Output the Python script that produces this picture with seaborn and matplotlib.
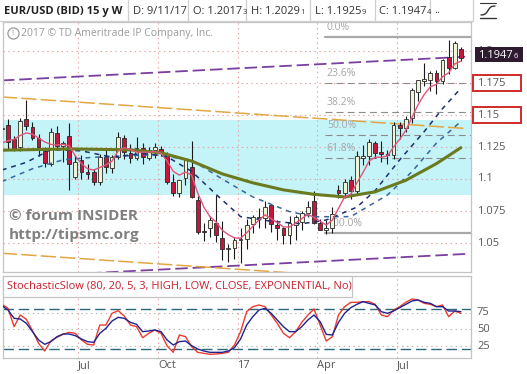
import matplotlib
matplotlib.use("Agg")
import matplotlib.pyplot as plt
import numpy as np
import pandas as pd
import seaborn as sns
from matplotlib.patches import Rectangle

# weekly EUR/USD bars, first one (2016-04-04) sits just off the left edge
weeks = pd.date_range("2016-04-04", periods=76, freq="W-MON")
open_ = [1.1390, 1.1422, 1.1310, 1.1248, 1.1466, 1.1409, 1.1318, 1.1221, 1.1114, 1.1362,
         1.1261, 1.1336, 1.1018, 1.1148, 1.1057, 1.1057, 1.0979, 1.1174, 1.1083, 1.1174,
         1.1318, 1.1200, 1.1161, 1.1240, 1.1161, 1.1227, 1.1232, 1.1188, 1.0979, 1.0888,
         1.1005, 1.1096, 1.0836, 1.0589, 1.0615, 1.0659, 1.0537, 1.0453, 1.0458, 1.0523,
         1.0530, 1.0645, 1.0700, 1.0697, 1.0795, 1.0640, 1.0615, 1.0565, 1.0640, 1.0667,
         1.0732, 1.0827, 1.0654, 1.0600, 1.0615, 1.0914, 1.0888, 1.0992, 1.0906, 1.1165,
         1.1180, 1.1284, 1.1212, 1.1196, 1.1190, 1.1425, 1.1400, 1.1474, 1.1682, 1.1762,
         1.1773, 1.1831, 1.1762, 1.1956, 1.1865, 1.2017]
high = [1.1438, 1.1465, 1.1339, 1.1475, 1.1616, 1.1448, 1.1348, 1.1252, 1.1395, 1.1416,
        1.1299, 1.1435, 1.1188, 1.1186, 1.1120, 1.1078, 1.1198, 1.1235, 1.1190, 1.1366,
        1.1340, 1.1272, 1.1327, 1.1283, 1.1250, 1.1281, 1.1260, 1.1214, 1.1040, 1.0995,
        1.1160, 1.1300, 1.0870, 1.0655, 1.0712, 1.0875, 1.0668, 1.0495, 1.0548, 1.0615,
        1.0685, 1.0719, 1.0775, 1.0829, 1.0800, 1.0679, 1.0625, 1.0714, 1.0715, 1.0750,
        1.0828, 1.0906, 1.0690, 1.0680, 1.0785, 1.0950, 1.1000, 1.1023, 1.1215, 1.1268,
        1.1310, 1.1296, 1.1296, 1.1225, 1.1445, 1.1445, 1.1490, 1.1712, 1.1777, 1.1910,
        1.1846, 1.1848, 1.1940, 1.2086, 1.2081, 1.2029]
low = [1.1330, 1.1234, 1.1215, 1.1217, 1.1384, 1.1305, 1.1181, 1.1097, 1.1098, 1.1230,
       1.1131, 1.0915, 1.0999, 1.1000, 1.1000, 1.0952, 1.0952, 1.1046, 1.1045, 1.1160,
       1.1160, 1.1123, 1.1150, 1.1120, 1.1150, 1.1161, 1.1180, 1.0960, 1.0865, 1.0860,
       1.0950, 1.0850, 1.0569, 1.0518, 1.0548, 1.0506, 1.0365, 1.0352, 1.0372, 1.0340,
       1.0454, 1.0580, 1.0620, 1.0620, 1.0589, 1.0520, 1.0495, 1.0495, 1.0525, 1.0600,
       1.0700, 1.0650, 1.0600, 1.0569, 1.0580, 1.0850, 1.0850, 1.0840, 1.0880, 1.1108,
       1.1110, 1.1167, 1.1130, 1.1120, 1.1155, 1.1312, 1.1370, 1.1440, 1.1611, 1.1730,
       1.1689, 1.1662, 1.1740, 1.1823, 1.1860, 1.1925]
close = [1.1395, 1.1292, 1.1232, 1.1457, 1.1414, 1.1318, 1.1253, 1.1122, 1.1370, 1.1258,
         1.1279, 1.1114, 1.1135, 1.1057, 1.1039, 1.0979, 1.1174, 1.1096, 1.1174, 1.1331,
         1.1213, 1.1161, 1.1240, 1.1174, 1.1227, 1.1248, 1.1206, 1.0979, 1.0888, 1.0992,
         1.1148, 1.0857, 1.0589, 1.0588, 1.0680, 1.0563, 1.0451, 1.0459, 1.0523, 1.0530,
         1.0641, 1.0700, 1.0697, 1.0784, 1.0652, 1.0615, 1.0560, 1.0657, 1.0700, 1.0732,
         1.0784, 1.0654, 1.0600, 1.0615, 1.0725, 1.0888, 1.0974, 1.0904, 1.1180, 1.1180,
         1.1290, 1.1201, 1.1196, 1.1190, 1.1425, 1.1400, 1.1468, 1.1695, 1.1773, 1.1780,
         1.1831, 1.1762, 1.1930, 1.1865, 1.2060, 1.1947]

# overlays
ema_fast = [1.128, 1.130, 1.131, 1.134, 1.136, 1.135, 1.132, 1.129, 1.127, 1.1265,
            1.127, 1.126, 1.118, 1.112, 1.108, 1.107, 1.109, 1.111, 1.114, 1.122,
            1.1245, 1.123, 1.121, 1.121, 1.121, 1.1215, 1.120, 1.114, 1.106, 1.103,
            1.1055, 1.103, 1.089, 1.078, 1.0705, 1.0665, 1.060, 1.0565, 1.054, 1.0537,
            1.058, 1.063, 1.068, 1.072, 1.069, 1.066, 1.0625, 1.0625, 1.0655, 1.069,
            1.0725, 1.070, 1.067, 1.064, 1.068, 1.077, 1.086, 1.088, 1.097, 1.105,
            1.114, 1.117, 1.117, 1.118, 1.125, 1.131, 1.138, 1.148, 1.158, 1.166,
            1.172, 1.174, 1.180, 1.183, 1.190, 1.192]
ema_mid_weeks = [0, 4, 8, 13, 18, 23, 27, 31, 35, 39, 44, 49, 53, 58, 61, 65, 69, 72, 75]
ema_mid = [1.107, 1.113, 1.123, 1.122, 1.117, 1.120, 1.1174, 1.106, 1.088, 1.0706,
           1.067, 1.065, 1.068, 1.078, 1.091, 1.115, 1.137, 1.155, 1.171]
ema_slow_weeks = [0, 5, 10, 15, 20, 25, 31, 36, 41, 47, 51, 57, 63, 67, 71, 75]
ema_slow = [1.098, 1.108, 1.115, 1.117, 1.118, 1.119, 1.1148, 1.100, 1.086, 1.0745,
            1.0705, 1.0706, 1.0875, 1.1057, 1.128, 1.145]
sma_weeks = [0, 11, 21, 26, 31, 36, 41, 46, 51, 56, 61, 66, 71, 75]
sma = [1.1225, 1.1235, 1.1228, 1.1205, 1.114, 1.104, 1.097, 1.0915, 1.088, 1.086,
       1.090, 1.099, 1.112, 1.1245]

stoch_k = [87.5, 81.5, 54, 71.5, 65, 48, 29, 17.5, 32.5, 38, 42.5, 45.5, 44, 34, 27.5,
           26.5, 56.5, 56.5, 74, 78, 70, 56.5, 54, 37.5, 44, 49, 44, 25, 15.5, 41.5, 39,
           24, 15.5, 14, 12.5, 13, 14, 15.5, 26.5, 46.5, 76.5, 84, 86.5, 84, 71.5, 59,
           44, 37.5, 46.5, 60.5, 71.5, 80.5, 56.5, 32.5, 39, 71.5, 84, 90.5, 90.5, 91.5,
           91.5, 87.5, 71.5, 69, 79, 84, 90.5, 95.5, 94, 89, 87.5, 84, 86.5, 69, 77.5, 74]
stoch_d = [85.5, 79, 66.5, 65.5, 59, 46.5, 34, 27.5, 31.5, 39, 43, 43, 40.5, 35.5, 31.5,
           30.5, 44, 51.5, 62.5, 68, 66.5, 60.5, 57.5, 46.5, 47.5, 49, 46.5, 34, 26.5,
           31.5, 32.5, 25.5, 20.5, 17.5, 15.5, 15.5, 15.5, 17.5, 22.5, 35.5, 56.5, 69,
           79, 81.5, 74, 64, 54, 46.5, 46.5, 54, 64, 71.5, 61.5, 42.5, 41.5, 60.5, 74,
           82.5, 87.5, 91.5, 89, 86.5, 76.5, 74, 77.5, 82.5, 87.5, 92.5, 94, 90.5, 89,
           84, 84, 77.5, 77.5, 76.5]

price_ticks = [1.05, 1.075, 1.1, 1.125, 1.15, 1.175, 1.2]
boxed_ticks = [1.175, 1.15]
stoch_ticks = [25, 50, 75]
stoch_levels = [80, 20]
quarter_starts = ["2016-07-01", "2016-10-01", "2017-01-01", "2017-04-01", "2017-07-01"]
quarter_labels = ["Jul", "Oct", "17", "Apr", "Jul"]
zone = (1.0875, 1.1461)
fib_pcts = [0.0, 23.6, 38.2, 50.0, 61.8, 100.0]
fib_low, fib_high = 1.0578, 1.2107
fib_from = "2017-04-10"
# hand drawn trend lines: (week, price) -> (week, price)
trend_purple = [((0, 1.1770), (76, 1.1956)), ((0, 1.0229), (76, 1.0415))]
trend_orange = [((0, 1.1641), (76, 1.1394)), ((0, 1.0420), (76, 1.0173))]
last_price = "1.1947"

sns.set_style("white")
plt.rcParams["font.family"] = ["Open Sans", "DejaVu Sans"]
plt.rcParams["lines.scale_dashes"] = False

W, H = 527, 374
fig = plt.figure(figsize=(W / 100, H / 100), dpi=100)


def rect(px0, py0, px1, py1):
    return [px0 / W, 1 - py1 / H, (px1 - px0) / W, (py1 - py0) / H]


ax = fig.add_axes(rect(3, 22, 471, 272))
ax2 = fig.add_axes(rect(3, 276, 471, 358))
ov = fig.add_axes([0, 0, 1, 1], zorder=5)
ov.set_xlim(0, W)
ov.set_ylim(H, 0)
ov.axis("off")

idx = np.arange(len(weeks))
xlim = (0.183, 76.65)
grid_x = [int(np.argmax(weeks >= pd.Timestamp(q))) - 0.5 for q in quarter_starts]
grid_red = "#e6a3a3"

# ---- main price panel
ax.set_xlim(*xlim)
ax.set_ylim(1.02734, 1.22266)
ax.axhspan(zone[0], zone[1], color="#c4f3f8", zorder=0, lw=0)
for p in price_ticks:
    ax.axhline(p, color=grid_red, lw=0.8, ls=(0, (1, 2.5)), zorder=1)
for gx in grid_x:
    ax.axvline(gx, color=grid_red, lw=0.8, ls=(0, (1, 2.5)), zorder=1)

for (x0, y0), (x1, y1) in trend_purple:
    ax.plot([x0, x1], [y0, y1], color="#7b3fa0", lw=1.3, dashes=(9, 3.5), zorder=2)
for (x0, y0), (x1, y1) in trend_orange:
    ax.plot([x0, x1], [y0, y1], color="#e2a643", lw=1.1, dashes=(11, 3), zorder=2)

fib_i = int(np.argmax(weeks >= pd.Timestamp(fib_from)))
for pct in fib_pcts:
    lvl = fib_high - pct / 100 * (fib_high - fib_low)
    if pct in (0.0, 100.0):
        ax.plot([fib_i - 0.2, xlim[1]], [lvl, lvl], color="#a9a9a9", lw=1.6, zorder=2)
    else:
        ax.plot([fib_i - 0.2, xlim[1]], [lvl, lvl], color="#8c8c8c", lw=0.8,
                dashes=(5, 3), zorder=2)
    ax.annotate(f"{pct:.1f}%", (fib_i + 0.1, lvl), xytext=(0, 7), textcoords="offset points",
                fontsize=7.5, color="#a6a6a6", va="center", ha="left", zorder=2)

for i in idx:
    o, c = open_[i], close[i]
    up = c >= o
    ax.vlines(i, low[i], high[i], color="#1a1a1a", lw=0.8, zorder=3)
    ax.bar(i, max(abs(c - o), 0.0004), bottom=min(o, c), width=0.62,
           color="#f1f5d8" if up else "#c5173c", edgecolor="#2a2a2a", lw=0.6, zorder=3)

sns.lineplot(x=ema_slow_weeks, y=ema_slow, ax=ax, color="#36679c", lw=1.1,
             linestyle=(0, (3.5, 3.5)), zorder=4)
sns.lineplot(x=ema_mid_weeks, y=ema_mid, ax=ax, color="#1d2f6e", lw=1.1,
             linestyle=(0, (3.5, 3.5)), zorder=4)
sns.lineplot(x=sma_weeks, y=sma, ax=ax, color="#6b7a1f", lw=2.2, zorder=4)
sns.lineplot(x=idx, y=ema_fast, ax=ax, color="#e2557b", lw=1.0, zorder=4)

ax.set_xticks([])
ax.set_yticks([])
ax.set_xlabel("")
ax.set_ylabel("")
for s in ax.spines.values():
    s.set_color("#c4c4c4")
    s.set_linewidth(0.9)

# ---- stochastic panel
ax2.set_xlim(*xlim)
ax2.set_ylim(7, 130)
for v in stoch_ticks:
    ax2.axhline(v, color="#b5b5b5", lw=0.8, ls=(0, (1, 2.5)), zorder=1)
for gx in grid_x:
    ax2.axvline(gx, color=grid_red, lw=0.8, ls=(0, (1, 2.5)), zorder=1)
for v in stoch_levels:
    ax2.axhline(v, color="#2b6878", lw=1.0, dashes=(7.5, 3.5), zorder=2)
sns.lineplot(x=idx, y=stoch_k, ax=ax2, color="#ec3b2f", lw=1.0, zorder=3)
sns.lineplot(x=idx, y=stoch_d, ax=ax2, color="#1f2490", lw=1.0, zorder=4)
ax2.set_xticks(grid_x)
ax2.set_xticklabels(quarter_labels, ha="left", fontsize=8, color="#555555")
ax2.tick_params(axis="x", length=0, pad=1.5)
ax2.set_yticks([])
ax2.set_xlabel("")
ax2.set_ylabel("")
for s in ax2.spines.values():
    s.set_color("#c4c4c4")
    s.set_linewidth(0.9)

ov.add_patch(Rectangle((3, 276), 349, 21, fc="white", ec="#c4c4c4", lw=0.9))
ov.text(7, 286.5, "StochasticSlow (80, 20, 5, 3, HIGH, LOW, CLOSE, EXPONENTIAL, No)",
        fontsize=8, color="#c8202e", va="center", ha="left")


# ---- right axis labels
def py(p):
    return 243 - (p - 1.05) * 1280


for p in price_ticks:
    ov.text(477, py(p), f"{p:g}", fontsize=8, color="#5a5a5a", va="center", ha="left",
            zorder=2)
for p in boxed_ticks:
    ov.add_patch(Rectangle((473, py(p) - 8), 48, 16, fc="none", ec="#d02b2b", lw=1.4))
for v in stoch_ticks:
    ov.text(477, 312.7 + (75 - v) * 0.6667, str(v), fontsize=8, color="#5a5a5a",
            va="center", ha="left")

# last price tag sits on top of the 1.2 label
ov.add_patch(Rectangle((475, 47), 48, 15, fc="#2e1b30", ec="none", zorder=6))
t = ov.text(478, 55, last_price, fontsize=8, color="white", va="center", ha="left", zorder=7)
ov.annotate("6", xy=(1, 0), xycoords=t, xytext=(0.3, 0.5), textcoords="offset points",
            fontsize=5.5, color="white", va="bottom", ha="left", zorder=7)

# ---- header
ov.plot([0, 473], [21, 21], color="#cfcfcf", lw=0.9)
for sx in [128, 188, 246, 310, 375, 430, 473]:
    ov.plot([sx, sx], [0, 21], color="#cfcfcf", lw=0.9)
ov.text(4, 11, "EUR/USD (BID) 15 y W", fontsize=8, fontweight="bold", color="#222222",
        va="center", ha="left")
ov.text(133, 11, "D: 9/11/17", fontsize=8, color="#333333", va="center", ha="left")
for hx, main, small in [(193, "O: 1.2017", "3"), (251, "H: 1.2029", "1"),
                        (315, "L: 1.1925", "9"), (379, "C: 1.1947", "4")]:
    t = ov.text(hx, 11, main, fontsize=8, color="#333333", va="center", ha="left")
    ov.annotate(small, xy=(1, 0), xycoords=t, xytext=(0.3, 0.3), textcoords="offset points",
                fontsize=5.5, color="#333333", va="bottom", ha="left")
ov.text(434, 10, "..", fontsize=8, color="#333333", va="center", ha="left")

# curve icon
ic = np.linspace(0, 1, 30)
ov.plot(481 + 14 * ic, 15 - 9 / (1 + np.exp(-10 * (ic - 0.5))), color="#333333", lw=1.0)
ov.plot([480, 496], [18, 18], color="#333333", lw=1.0)
ov.plot([480, 496], [3, 3], color="#333333", lw=0.8)

# copyright line
ov.plot([13], [33], marker="o", ms=8, mfc="none", mec="#9a9a9a", mew=0.9)
ov.text(13, 33, "!", fontsize=6, color="#9a9a9a", va="center", ha="center")
ov.text(21, 33, "2017 \u00a9 TD Ameritrade IP Company, Inc.", fontsize=7.5,
        color="#9a9a9a", va="center", ha="left")

# watermark
ov.text(9, 216, "\u00a9 forum INSIDER", fontsize=11, fontweight="bold", color="#808080",
        va="center", ha="left")
ov.text(9, 235, "http://tipsmc.org", fontsize=11, fontweight="bold", color="#808080",
        va="center", ha="left")

fig.savefig("out.png", dpi=100)
plt.close(fig)
